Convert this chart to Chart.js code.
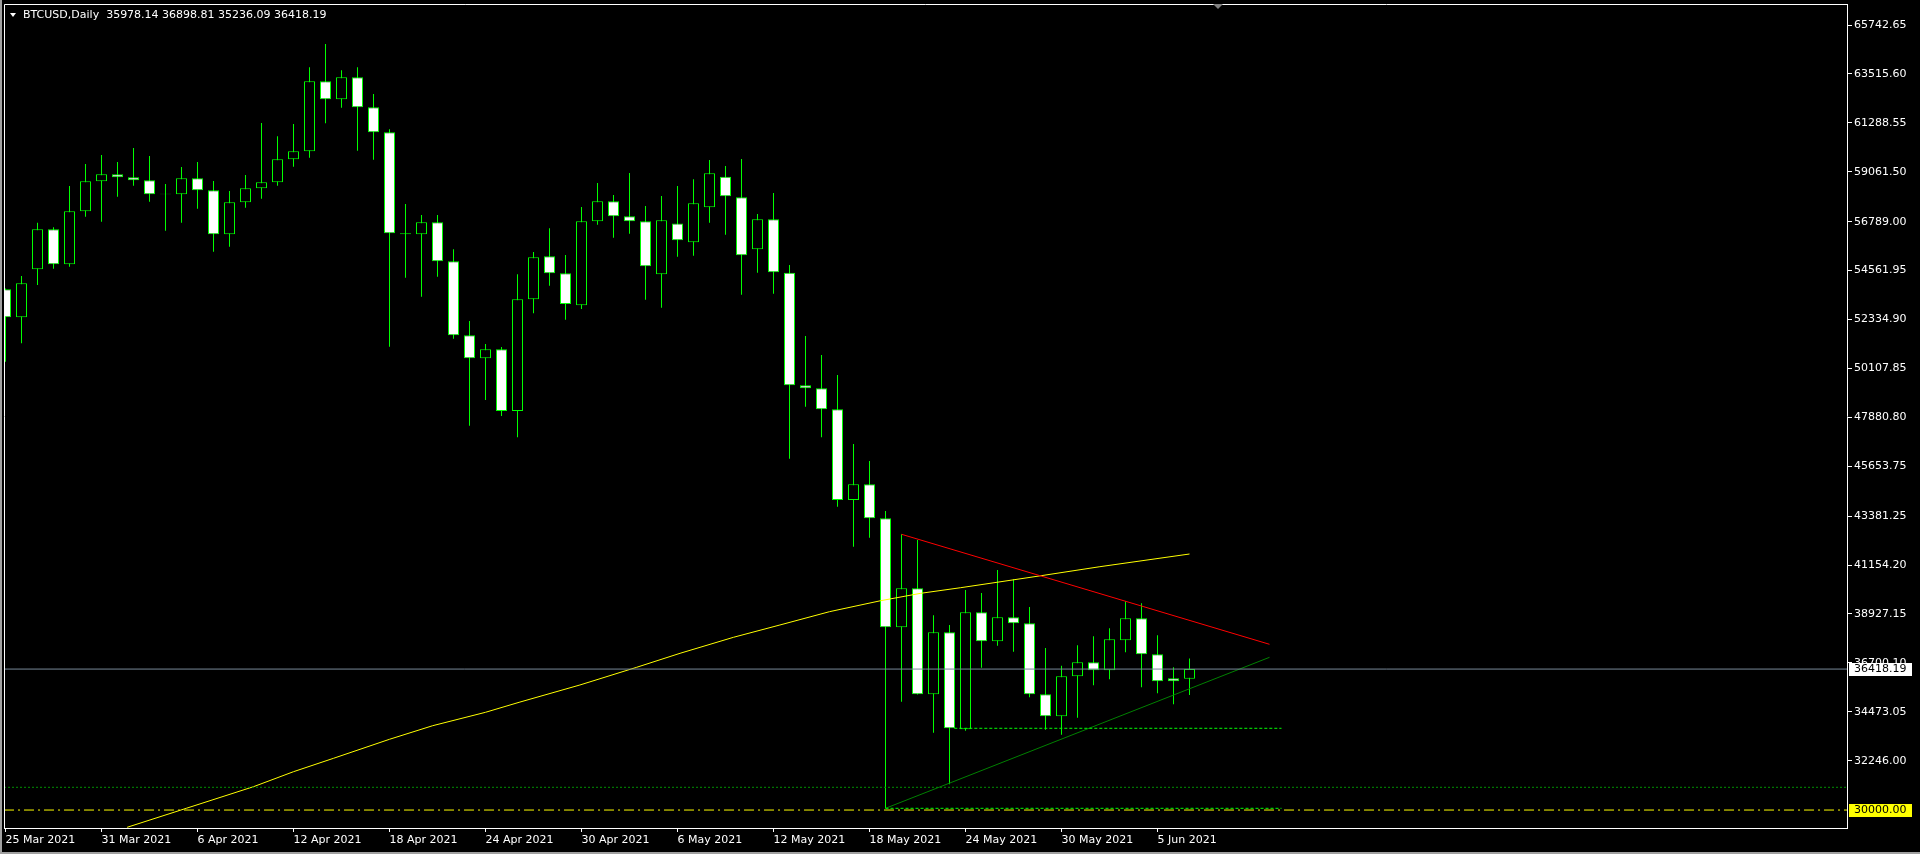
<!DOCTYPE html>
<html>
<head>
<meta charset="utf-8">
<title>BTCUSD,Daily</title>
<script src="https://cdn.jsdelivr.net/npm/chart.js@4.4.1/dist/chart.umd.min.js"></script>
<style>
  html, body { margin: 0; padding: 0; background: #000; overflow: hidden; }
  canvas { display: block; }
</style>
</head>
<body>
<canvas id="btc" width="1920" height="854"></canvas>
<script>
// daily candles, first one is 25 Mar 2021
var opens = [53709, 52434, 54620, 56441, 54848, 57261, 58626, 58945, 58809, 58672,
	58034, 58034, 58763, 58217, 56213, 57670, 58308, 58581, 59628, 59993,
	63179, 62360, 63362, 61996, 60857, 56259, 56213, 56760, 54984, 51615,
	50567, 50977, 48168, 53254, 55211, 54438, 52981, 56805, 57716, 57033,
	56805, 54392, 56700, 55849, 57443, 58836, 57898, 55530, 56896, 54465,
	49338, 49201, 48245, 44116, 44831, 43283, 38320, 40096, 35270, 38093,
	33676, 39003, 37683, 38776, 38502, 35270, 34268, 36089, 36727, 36363,
	37728, 38730, 37091, 35998, 35978.14];
var highs = [53750, 54315, 56742, 56532, 58413, 59414, 59824, 59505, 60143, 59778,
	58503, 59277, 59505, 58640, 58185, 58913, 61281, 60675, 61235, 63817,
	64878, 63680, 63817, 62601, 60994, 57593, 57092, 57092, 55530, 52266,
	51219, 51082, 54392, 55407, 56487, 55271, 57456, 58549, 58003, 59004,
	57502, 57957, 58413, 58718, 59596, 59323, 59642, 57138, 58094, 54816,
	51583, 50718, 49807, 46666, 45892, 43615, 42555, 42295, 38867, 38425,
	40019, 39882, 40929, 40506, 39245, 37378, 36572, 37501, 37910, 38275,
	39504, 39413, 37956, 36499, 36898.81];
var lows = [50413, 51250, 53905, 54647, 54738, 57015, 56787, 57925, 58426, 57697,
	56377, 56742, 57379, 55421, 55649, 57424, 57834, 58426, 59291, 59701,
	61267, 61977, 60020, 59610, 51096, 54237, 53372, 54283, 51460, 47499,
	48669, 47940, 46971, 52617, 53873, 52325, 52812, 56650, 56059, 56241,
	53236, 52871, 55193, 55239, 56742, 56195, 53464, 54465, 53509, 45996,
	48364, 46971, 43811, 41990, 42400, 30079, 34933, 35255, 33521, 31172,
	33612, 36481, 37483, 37209, 35133, 33658, 33430, 34204, 35680, 35953,
	37182, 35589, 35315, 34814, 35236.09];
var closes = [52434, 53982, 56441, 54848, 57261, 58626, 58945, 58809, 58672, 58034,
	58060, 58763, 58217, 56213, 57670, 58308, 58581, 59628, 59993, 63179,
	62360, 63362, 61996, 60857, 56259, 56213, 56760, 54984, 51615, 50567,
	50977, 48168, 53254, 55166, 54438, 53040, 56805, 57716, 57033, 56805,
	54756, 56851, 55940, 57625, 58991, 57944, 55257, 56896, 54483, 49338,
	49201, 48245, 44116, 44831, 43283, 38320, 40096, 35270, 38093, 33722,
	39003, 37683, 38776, 38502, 35270, 34268, 36089, 36727, 36363, 37774,
	38730, 37091, 35862, 35862, 36418.19];

var dateTicks = [0, 6, 12, 18, 24, 30, 36, 42, 48, 54, 60, 66, 72];
var dateLabels = ["25 Mar 2021", "31 Mar 2021", "6 Apr 2021", "12 Apr 2021", "18 Apr 2021",
	"24 Apr 2021", "30 Apr 2021", "6 May 2021", "12 May 2021", "18 May 2021",
	"24 May 2021", "30 May 2021", "5 Jun 2021"];
var priceTicks = [65742.65, 63515.60, 61288.55, 59061.50, 56789.00, 54561.95, 52334.90, 50107.85,
	47880.80, 45653.75, 43381.25, 41154.20, 38927.15, 36700.10, 34473.05, 32246.00];

// moving average (yellow), read at points along the curve
var maDays = [7.6, 11.3, 15.5, 18, 20.5, 24, 26.7, 30, 32.1, 35.9, 39.45, 42.16, 45.5,
	48.4, 51.5, 54.7, 57.2, 59.7, 64.6, 68.4, 74];
var maValues = [29213, 30079, 31063, 31746, 32355, 33221, 33840, 34450, 34905, 35693, 36499, 37136, 37865,
	38425, 39031, 39531, 39868, 40123, 40655, 41079, 41657];

// drawn objects
var redTrendDays = [56, 79];
var redTrendValues = [42555, 37546];
var greenTrendDays = [55, 79];
var greenTrendValues = [30079, 36954];
var supportDays = [59.3, 79.75];
var supportLevel = 33722;
var lowDays = [55, 79.75];
var lowLevel = 30079;
var dottedLevel = 31035;
var roundLevel = 30000;
var lastPrice = 36418.19;
var header = "BTCUSD,Daily  35978.14 36898.81 35236.09 36418.19";

// view range: 16px a day, price scale as on the terminal
var xMin = -0.09375, xMax = 115.09375;
var yMin = 29182.1, yMax = 66698.78;

var bodies = [], wicks = [], bodyFill = [];
for (var i = 0; i < opens.length; i++) {
	bodies.push({x: i, y: [opens[i], closes[i]]});
	wicks.push({x: i, y: [lows[i], highs[i]]});
	bodyFill.push(closes[i] >= opens[i] ? '#000000' : '#ffffff');
}

function pts(xs, ys) {
	var out = [];
	for (var k = 0; k < xs.length; k++) out.push({x: xs[k], y: ys[k]});
	return out;
}
function flat(x0, x1, v) {
	return [{x: x0, y: v}, {x: x1, y: v}];
}
function lineSet(data, color, dash, order) {
	return {
		type: 'line', data: data, borderColor: color, borderWidth: 1,
		borderDash: dash || [], pointRadius: 0, tension: 0, fill: false, order: order
	};
}

Chart.defaults.font.family = 'DejaVu Sans';
Chart.defaults.font.size = 11;

var decor = {
	id: 'decor',
	beforeDraw: function(chart) {
		var ctx = chart.ctx;
		ctx.save();
		ctx.fillStyle = '#000000';
		ctx.fillRect(0, 0, chart.width, chart.height);
		ctx.restore();
	},
	afterDraw: function(chart) {
		var ctx = chart.ctx, a = chart.chartArea, ys = chart.scales.y;
		ctx.save();
		// window edge
		ctx.fillStyle = '#a0a0a0';
		ctx.fillRect(0, 0, 2, chart.height);
		ctx.fillRect(0, chart.height - 2, chart.width, 2);
		// top and left of the frame
		ctx.strokeStyle = '#ffffff';
		ctx.lineWidth = 1;
		ctx.beginPath();
		ctx.moveTo(a.left + 0.5, a.bottom);
		ctx.lineTo(a.left + 0.5, a.top + 0.5);
		ctx.lineTo(a.right, a.top + 0.5);
		ctx.stroke();
		// shift marker
		ctx.fillStyle = '#808080';
		ctx.beginPath();
		ctx.moveTo(1213, 4); ctx.lineTo(1223, 4); ctx.lineTo(1218, 9);
		ctx.closePath(); ctx.fill();
		// header
		ctx.fillStyle = '#ffffff';
		ctx.beginPath();
		ctx.moveTo(10, 13); ctx.lineTo(16, 13); ctx.lineTo(13, 17);
		ctx.closePath(); ctx.fill();
		ctx.font = '11px "DejaVu Sans"';
		ctx.textBaseline = 'middle';
		ctx.textAlign = 'left';
		ctx.fillText(header, 23, 15);
		// price labels on the axis
		function box(v, bg) {
			var py = Math.round(ys.getPixelForValue(v));
			ctx.fillStyle = bg;
			ctx.fillRect(a.right + 2, py - 6, 63, 13);
			ctx.fillStyle = '#000000';
			ctx.fillText(v.toFixed(2), a.right + 7, py + 0.5);
		}
		box(lastPrice, '#ffffff');
		box(roundLevel, '#ffff00');
		ctx.restore();
	}
};

var ctx = document.getElementById('btc');
var chart = new Chart(ctx, {
	type: 'bar',
	data: {
		datasets: [
			lineSet(flat(xMin, xMax, lastPrice), '#778899', [], 0),
			lineSet(flat(xMin, xMax, roundLevel), '#ffff00', [10, 4, 2, 4], 0),
			lineSet(flat(xMin, xMax, dottedLevel), '#009000', [2, 2], 0),
			lineSet(flat(lowDays[0], lowDays[1], lowLevel), '#00ff00', [3, 2], 0),
			lineSet(flat(supportDays[0], supportDays[1], supportLevel), '#00ff00', [3, 2], 0),
			lineSet(pts(greenTrendDays, greenTrendValues), '#008000', [], 0),
			lineSet(pts(redTrendDays, redTrendValues), '#ff0000', [], 0),
			lineSet(pts(maDays, maValues), '#ffff00', [], 0),
			{
				data: bodies, backgroundColor: bodyFill, borderColor: '#00ff00', borderWidth: 1,
				borderSkipped: false, barThickness: 11, maxBarThickness: 11, inflateAmount: 0,
				grouped: false, order: 1
			},
			{
				data: wicks, backgroundColor: '#00ff00', borderWidth: 0,
				barThickness: 1, maxBarThickness: 1, inflateAmount: 0,
				grouped: false, order: 2
			}
		]
	},
	options: {
		responsive: false,
		animation: false,
		devicePixelRatio: 1,
		events: [],
		layout: { padding: { left: 4, top: 4, right: 0, bottom: 0 } },
		plugins: { legend: { display: false }, tooltip: { enabled: false } },
		scales: {
			x: {
				type: 'linear', position: 'bottom', min: xMin, max: xMax, offset: false,
				grid: { display: true, drawOnChartArea: false, drawTicks: true, tickLength: 4, color: '#ffffff', offset: false },
				border: { display: true, color: '#ffffff', width: 1 },
				ticks: {
					color: '#ffffff', align: 'start', autoSkip: false, maxRotation: 0, padding: 2,
					callback: function(v) {
						var k = dateTicks.indexOf(v);
						return k < 0 ? '' : dateLabels[k];
					}
				},
				afterBuildTicks: function(s) {
					s.ticks = dateTicks.map(function(v) { return {value: v}; });
				},
				afterFit: function(s) {
					s.height = 26; s.paddingLeft = 0; s.paddingRight = 0;
				}
			},
			y: {
				type: 'linear', position: 'right', min: yMin, max: yMax,
				grid: { display: true, drawOnChartArea: false, drawTicks: true, tickLength: 5, color: '#ffffff' },
				border: { display: true, color: '#ffffff', width: 1 },
				ticks: {
					color: '#ffffff', autoSkip: false, padding: 2,
					callback: function(v) { return Number(v).toFixed(2); }
				},
				afterBuildTicks: function(s) {
					s.ticks = priceTicks.map(function(v) { return {value: v}; });
				},
				afterFit: function(s) {
					s.width = 73; s.paddingTop = 0; s.paddingBottom = 0;
				}
			}
		}
	},
	plugins: [decor]
});
</script>
</body>
</html>
